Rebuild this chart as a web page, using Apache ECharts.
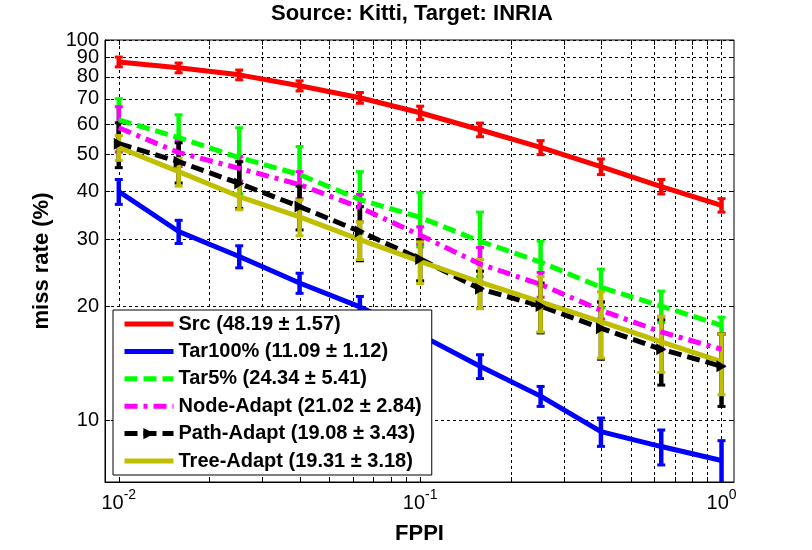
<!DOCTYPE html>
<html>
<head>
<meta charset="utf-8">
<script src="https://cdn.jsdelivr.net/npm/echarts@6/dist/echarts.min.js"></script>
<style>
  html, body { margin: 0; padding: 0; background: #fff; }
  #chart { width: 812px; height: 550px; }
</style>
</head>
<body>
<div id="chart"></div>
<script>
// FPPI sample points (0.2 decade steps)
const fppi = [0.01, 0.0158, 0.0251, 0.0398, 0.0631, 0.1, 0.158, 0.251, 0.398, 0.631, 1];

// miss rate (%) per method, with error bar half-lengths
const src = [87.6, 84.5, 81.0, 75.8, 70.5, 64.4, 58.1, 52.2, 46.5, 41.2, 36.8];
const srcErr = [2.6, 2.5, 2.4, 2.3, 2.3, 2.6, 2.4, 2.2, 2.2, 1.8, 1.5];

const tar100 = [40.0, 31.4, 27.0, 23.0, 19.9, 16.8, 13.9, 11.6, 9.36, 8.55, 7.86];
const tar100Err = [3.0, 2.2, 1.8, 1.4, 1.3, 1.1, 1.0, 0.7, 0.8, 0.9, 1.0];

const tar5 = [61.7, 55.4, 49.1, 44.3, 38.1, 34.2, 29.6, 26.1, 22.4, 20.0, 17.8];
const tar5Err = [8.4, 8.2, 9.7, 8.2, 7.0, 5.6, 5.7, 3.5, 2.6, 1.9, 0.9];

const node = [58.8, 50.6, 46.0, 41.7, 36.3, 30.7, 25.8, 22.8, 19.5, 17.1, 15.4];
const nodeErr = [8.0, 4.1, 3.4, 3.4, 3.0, 1.6, 2.7, 1.7, 1.0, 1.7, 1.5];

const path = [53.4, 47.9, 42.0, 36.5, 31.4, 26.6, 22.2, 20.0, 17.5, 15.4, 13.9];
const pathErr = [7.2, 5.8, 5.9, 4.8, 5.1, 3.3, 2.5, 3.0, 3.0, 3.0, 3.0];

const tree = [52.2, 45.1, 38.8, 34.3, 29.9, 26.2, 23.1, 20.5, 18.2, 16.1, 14.3];
const treeErr = [3.9, 3.8, 3.0, 3.7, 3.4, 3.3, 3.4, 3.4, 3.6, 2.7, 2.6];

const names = [
  'Src (48.19 \u00b1 1.57)',
  'Tar100% (11.09 \u00b1 1.12)',
  'Tar5% (24.34 \u00b1 5.41)',
  'Node-Adapt (21.02 \u00b1 2.84)',
  'Path-Adapt (19.08 \u00b1 3.43)',
  'Tree-Adapt (19.31 \u00b1 3.18)'
];

// axis ticks
const xTicks = [0.01, 0.02, 0.03, 0.04, 0.05, 0.06, 0.07, 0.08, 0.09,
  0.1, 0.2, 0.3, 0.4, 0.5, 0.6, 0.7, 0.8, 0.9, 1];
const xLabels = [0.01, 0.1, 1];
const yTicks = [10, 20, 30, 40, 50, 60, 70, 80, 90, 100];
// y labels split over two overlaid axes so none is dropped as overlapping
const yLabelsOdd = [10, 30, 50, 70, 90];
const yLabelsEven = [20, 40, 60, 80, 100];

const FONT = "'Liberation Sans', Arial, sans-serif";
const TRIANGLE = 'path://M0,0 L10,6 L0,12 Z';
const X_MIN = 0.009, X_MAX = 1.1, Y_MIN = 6.9, Y_MAX = 100.001;

function errSeries(name, vals, errs, color) {
  return {
    type: 'custom',
    name: name + ' err',
    silent: true,
    animation: false,
    data: fppi.map((x, i) => [x, vals[i], errs[i]]),
    encode: { x: 0, y: 1 },
    renderItem(params, api) {
      const x = api.value(0), y = api.value(1), e = api.value(2);
      const top = api.coord([x, y + e]);
      const bot = api.coord([x, y - e]);
      const cs = params.coordSys;
      const clampY = v => Math.max(cs.y, Math.min(cs.y + cs.height, v));
      const style = { stroke: color, lineWidth: 4.5 };
      const children = [{
        type: 'line',
        shape: { x1: top[0], y1: clampY(top[1]), x2: top[0], y2: clampY(bot[1]) },
        style
      }];
      [top, bot].forEach(p => {
        if (p[1] >= cs.y && p[1] <= cs.y + cs.height) {
          children.push({
            type: 'line',
            shape: { x1: p[0] - 4, y1: p[1], x2: p[0] + 4, y2: p[1] },
            style: { stroke: color, lineWidth: 3 }
          });
        }
      });
      return { type: 'group', children };
    }
  };
}

function lineSeries(name, vals, color, dash, extra) {
  return Object.assign({
    type: 'line',
    name,
    data: fppi.map((x, i) => [x, vals[i]]),
    symbol: 'circle',
    showSymbol: false,
    lineStyle: { color, width: 5, type: dash },
    itemStyle: { color },
    silent: true,
    animation: false
  }, extra || {});
}

const tickStyle = { show: true, inside: true, length: 5, lineStyle: { color: '#000' } };
const gridLine = { color: '#000', width: 1, type: [3, 3] };
const labelFont = { fontFamily: FONT, fontSize: 20, color: '#000' };
const nameFont = { fontFamily: FONT, fontSize: 22, fontWeight: 'bold', color: '#000' };

const chart = echarts.init(document.getElementById('chart'));

chart.setOption({
  backgroundColor: '#fff',
  animation: false,
  title: {
    text: 'Source: Kitti, Target: INRIA',
    left: 271,
    top: 3,
    padding: 0,
    textStyle: nameFont
  },
  grid: {
    left: 105, top: 40, right: 78, bottom: 66,
    containLabel: false,
    show: true, borderColor: '#000', borderWidth: 1
  },
  legend: {
    data: names.map((n, i) => i === 4 ? { name: n, itemStyle: { opacity: 1 } } : n),
    orient: 'vertical',
    left: 113,
    top: 310,
    backgroundColor: '#fff',
    borderColor: '#000',
    borderWidth: 1,
    padding: [4, 10, 4, 9],
    itemWidth: 49,
    itemHeight: 14,
    itemGap: 7.4,
    selectedMode: false,
    itemStyle: { opacity: 0 },
    lineStyle: { width: 5 },
    textStyle: Object.assign({ fontWeight: 'bold' }, labelFont)
  },
  xAxis: [{
    type: 'log',
    logBase: 10,
    min: X_MIN,
    max: X_MAX,
    name: 'FPPI',
    nameLocation: 'middle',
    nameGap: 41,
    nameTextStyle: nameFont,
    axisLine: { show: true, lineStyle: { color: '#000', width: 1 } },
    axisTick: Object.assign({ customValues: xTicks }, tickStyle),
    axisLabel: {
      customValues: xLabels,
      margin: -5,
      formatter: v => '{b|10}{sup|' + Math.round(Math.log10(v)) + '}',
      rich: {
        b: Object.assign({ lineHeight: 16, verticalAlign: 'bottom' }, labelFont),
        sup: { fontFamily: FONT, fontSize: 14, color: '#000', lineHeight: 36 }
      }
    },
    splitLine: { show: true, customValues: xTicks, lineStyle: gridLine },
    minorTick: { show: false },
    minorSplitLine: { show: false }
  }, {
    // mirrored ticks along the top edge
    type: 'log', logBase: 10, min: X_MIN, max: X_MAX, position: 'top',
    axisLine: { show: false },
    axisTick: Object.assign({ customValues: xTicks }, tickStyle),
    axisLabel: { show: false },
    splitLine: { show: false }
  }],
  yAxis: [{
    type: 'log',
    logBase: 10,
    min: Y_MIN,
    max: Y_MAX,
    name: 'miss rate (%)',
    nameLocation: 'middle',
    nameGap: 52,
    nameTextStyle: nameFont,
    axisLine: { show: true, lineStyle: { color: '#000', width: 1 } },
    axisTick: Object.assign({ customValues: yTicks }, tickStyle),
    axisLabel: Object.assign({
      customValues: yLabelsOdd, margin: 6,
      formatter: v => String(Math.round(v))
    }, labelFont),
    splitLine: { show: true, customValues: yTicks, lineStyle: gridLine },
    minorTick: { show: false },
    minorSplitLine: { show: false }
  }, {
    type: 'log', logBase: 10, min: Y_MIN, max: Y_MAX, position: 'left', offset: 0,
    axisLine: { show: false },
    axisTick: { show: false },
    axisLabel: Object.assign({
      customValues: yLabelsEven, margin: 6,
      formatter: v => String(Math.round(v))
    }, labelFont),
    splitLine: { show: false }
  }, {
    // mirrored ticks along the right edge
    type: 'log', logBase: 10, min: Y_MIN, max: Y_MAX, position: 'right',
    axisLine: { show: false },
    axisTick: Object.assign({ customValues: yTicks }, tickStyle),
    axisLabel: { show: false },
    splitLine: { show: false }
  }],
  series: [
    errSeries(names[0], src, srcErr, '#ff0000'),
    lineSeries(names[0], src, '#ff0000', 'solid'),
    errSeries(names[1], tar100, tar100Err, '#0000ff'),
    lineSeries(names[1], tar100, '#0000ff', 'solid'),
    errSeries(names[2], tar5, tar5Err, '#00ff00'),
    lineSeries(names[2], tar5, '#00ff00', [13, 6]),
    errSeries(names[3], node, nodeErr, '#ff00ff'),
    lineSeries(names[3], node, '#ff00ff', [13, 6, 4, 6]),
    errSeries(names[4], path, pathErr, '#000000'),
    lineSeries(names[4], path, '#000000', [13, 6], {
      symbol: TRIANGLE,
      symbolSize: [10, 12],
      showSymbol: true
    }),
    errSeries(names[5], tree, treeErr, '#bfbf00'),
    lineSeries(names[5], tree, '#bfbf00', 'solid')
  ]
});

window.addEventListener('resize', () => chart.resize());
</script>
</body>
</html>
